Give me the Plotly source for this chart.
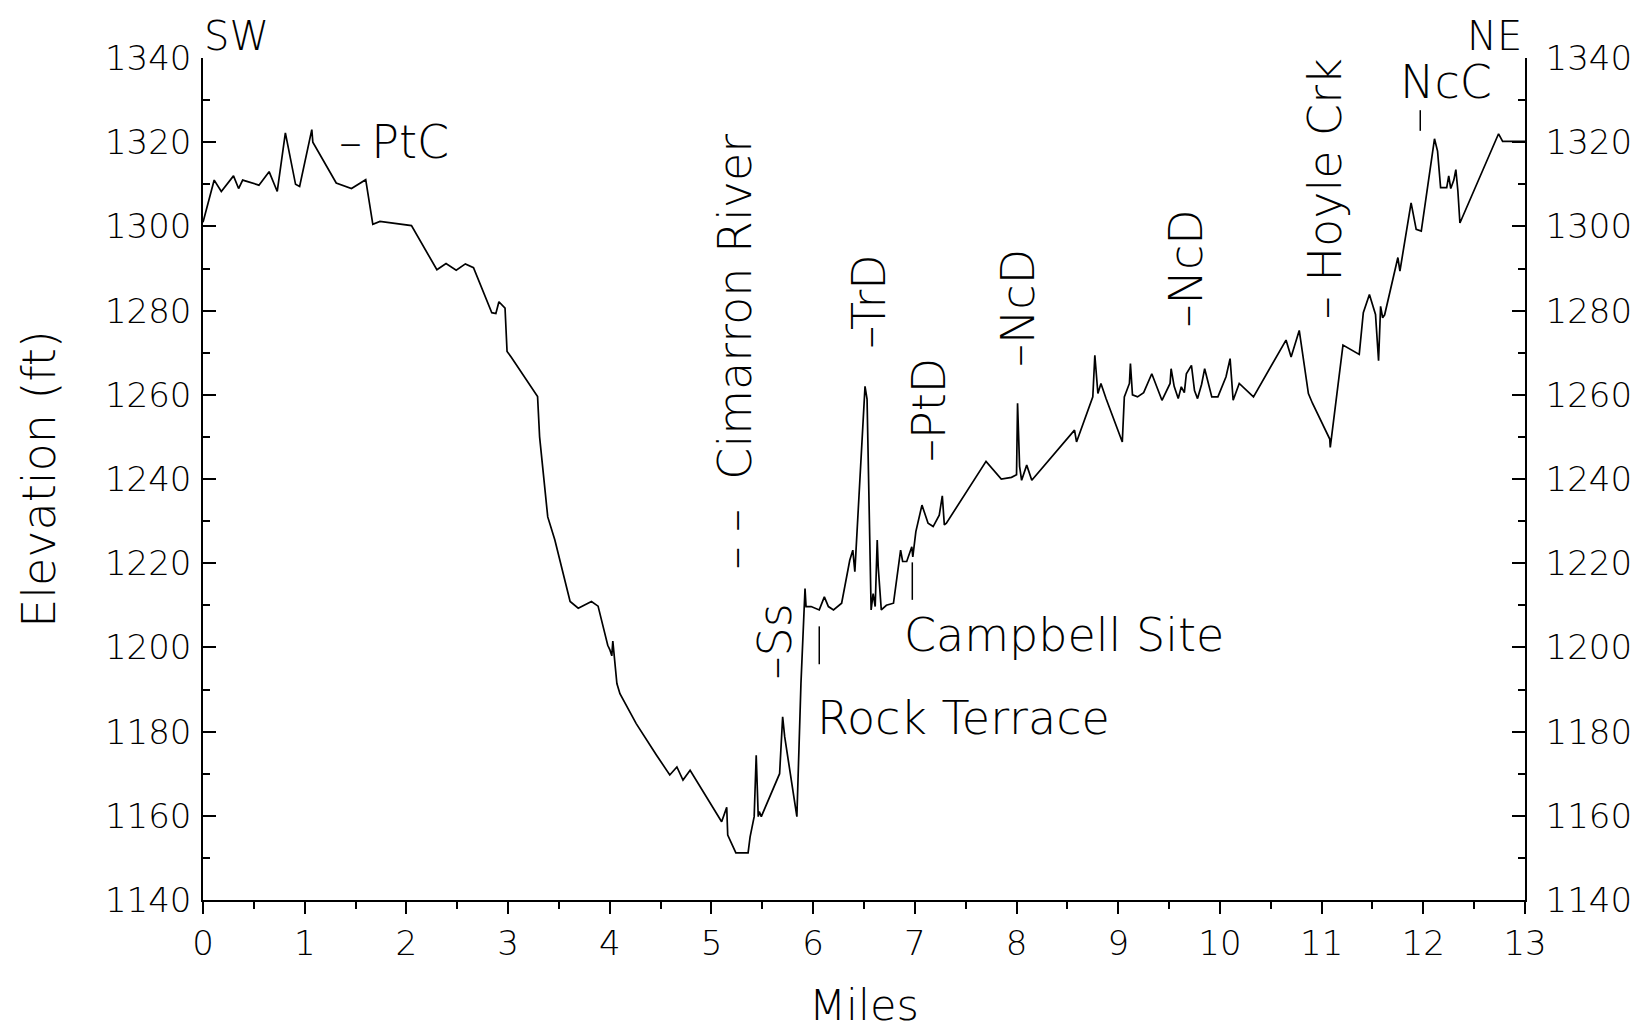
import plotly.graph_objects as go

# Elevation profile (miles from SW end, elevation in ft)
miles = [0, 0.11, 0.18, 0.30, 0.35, 0.39, 0.55, 0.65, 0.73, 0.81, 0.91, 0.95, 1.07, 1.08,
         1.31, 1.46, 1.60, 1.67, 1.74, 2.05, 2.30, 2.39, 2.49, 2.58, 2.66, 2.84, 2.88,
         2.91, 2.97, 2.99, 3.03, 3.26, 3.29, 3.31, 3.39, 3.46, 3.61, 3.69, 3.82, 3.885,
         3.98, 4.00, 4.02, 4.03, 4.04, 4.07, 4.10, 4.26, 4.46, 4.59, 4.66, 4.72, 4.79,
         5.10, 5.15, 5.16, 5.24, 5.36, 5.38, 5.42, 5.44, 5.46, 5.47, 5.49, 5.67, 5.70,
         5.72, 5.84, 5.86, 5.88, 5.92, 5.93, 5.98, 6.06, 6.11, 6.15, 6.20, 6.28, 6.36,
         6.39, 6.41, 6.51, 6.53, 6.57, 6.59, 6.61, 6.63, 6.64, 6.67, 6.72, 6.79, 6.86,
         6.88, 6.92, 6.97, 6.98, 7.01, 7.07, 7.13, 7.18, 7.24, 7.27, 7.29, 7.31, 7.70,
         7.85, 7.95, 8.00, 8.01, 8.03, 8.05, 8.10, 8.15, 8.57, 8.59, 8.75, 8.77, 8.80,
         8.83, 8.88, 9.04, 9.06, 9.11, 9.12, 9.14, 9.19, 9.25, 9.33, 9.43, 9.51, 9.52,
         9.55, 9.59, 9.62, 9.65, 9.67, 9.72, 9.75, 9.78, 9.82, 9.85, 9.92, 9.98, 10.06,
         10.10, 10.13, 10.19, 10.33, 10.65, 10.70, 10.78, 10.87, 10.91, 11.08, 11.085,
         11.21, 11.37, 11.41, 11.47, 11.53, 11.56, 11.58, 11.60, 11.62, 11.75, 11.77,
         11.88, 11.93, 11.98, 12.11, 12.14, 12.17, 12.23, 12.25, 12.27, 12.30, 12.32,
         12.34, 12.36, 12.74, 12.78, 13.0]

elevation_ft = [1301, 1311, 1308.3, 1312, 1309, 1311, 1309.8, 1313, 1308.3, 1322.2, 1310,
                1309.5, 1323, 1320, 1310.3, 1309, 1311.1, 1300.5, 1301.2, 1300.2, 1289.7,
                1291.2, 1289.6, 1291.1, 1290.2, 1279.5, 1279.3, 1282.1, 1280.6, 1270.3,
                1269, 1260.5, 1259.6, 1250, 1231, 1225.5, 1210.9, 1209.3, 1210.9, 1209.8,
                1200.5, 1199.5, 1198, 1201.5, 1199, 1191.4, 1189, 1181.9, 1174.4, 1169.7,
                1171.6, 1168.5, 1170.8, 1158.6, 1162, 1155.4, 1151.2, 1151.2, 1155,
                1159.8, 1174.4, 1159.8, 1161, 1159.8, 1170, 1183.5, 1178.8, 1159.8,
                1175.6, 1191.4, 1214, 1209.7, 1209.7, 1208.9, 1212, 1209.7, 1208.9,
                1210.5, 1220.7, 1223.1, 1218, 1262, 1259, 1208.9, 1212.8, 1209.7, 1225.5,
                1219, 1208.9, 1210, 1210.5, 1223.1, 1220.4, 1220.4, 1223.9, 1221.5,
                1227.5, 1233.8, 1229.5, 1228.7, 1231.4, 1236, 1229.1, 1229.5, 1244.2,
                1240, 1240.4, 1241, 1258, 1243, 1239.7, 1243.3, 1239.7, 1251.6, 1248.8,
                1259.5, 1269.4, 1260.3, 1262.7, 1259.1, 1248.8, 1259.5, 1262.7, 1267.4,
                1260, 1259.5, 1260.5, 1265, 1258.7, 1262.7, 1266.2, 1262, 1259.1, 1261.9,
                1260.5, 1265, 1267, 1261, 1259.1, 1262.5, 1266.2, 1259.5, 1259.5, 1264.3,
                1268.6, 1258.7, 1262.7, 1259.5, 1273, 1269, 1275.3, 1260.3, 1258, 1249.5,
                1247.5, 1271.8, 1269.6, 1279.5, 1283.8, 1279.1, 1268.1, 1281, 1278.3,
                1279, 1292.6, 1289.4, 1305.6, 1299.3, 1298.9, 1320.8, 1317.9, 1309.2,
                1309.2, 1312, 1309, 1311, 1313.5, 1308.4, 1300.8, 1322, 1320.2, 1320.2]

x_ticks = list(range(0, 14))
y_ticks = list(range(1140, 1341, 20))

FONT = "DejaVu Sans"
TICK = dict(family=FONT, size=34, color="black", weight=200)
BIG = dict(family=FONT, size=46, color="black", weight=200)
TITLE_X = dict(family=FONT, size=43, color="black", weight=200)

fig = go.Figure()
fig.add_trace(go.Scatter(x=miles, y=elevation_ft, mode="lines",
                         line=dict(color="black", width=1.7), showlegend=False,
                         hoverinfo="skip"))
fig.add_trace(go.Scatter(x=miles, y=elevation_ft, mode="lines", yaxis="y2",
                         line=dict(color="rgba(0,0,0,0)", width=0), showlegend=False,
                         hoverinfo="skip"))

axis_common = dict(showgrid=False, zeroline=False, showline=True, linecolor="black",
                   linewidth=1.5, tickcolor="black", tickwidth=1.5, tickfont=TICK,
                   automargin=False)

fig.update_layout(
    width=1647, height=1033,
    margin=dict(l=203, r=122, t=58, b=133),
    paper_bgcolor="white", plot_bgcolor="white",
    xaxis=dict(range=[0, 13], tickvals=x_ticks, ticks="outside", ticklen=12,
               minor=dict(dtick=0.5, ticks="outside", ticklen=7, tickcolor="black", tickwidth=1.5),
               ticklabelstandoff=0, **axis_common),
    yaxis=dict(range=[1140, 1340], tickvals=y_ticks, ticks="inside", ticklen=13,
               minor=dict(dtick=10, ticks="inside", ticklen=7, tickcolor="black", tickwidth=1.5),
               title=dict(text="Elevation (ft)", font=BIG, standoff=35),
               ticklabelstandoff=3, **axis_common),
    yaxis2=dict(range=[1140, 1340], tickvals=y_ticks, ticks="inside", ticklen=13,
                minor=dict(dtick=10, ticks="inside", ticklen=7, tickcolor="black", tickwidth=1.5),
                overlaying="y", side="right", ticklabelstandoff=12, **axis_common),
)

ann = []
def txt(text, x, y, angle=0, xanchor="center", yanchor="middle", font=BIG,
        xref="x", yref="y"):
    ann.append(dict(text=text, x=x, y=y, xref=xref, yref=yref, showarrow=False,
                    textangle=angle, xanchor=xanchor, yanchor=yanchor, font=font,
                    borderpad=0))

SMALL = dict(family=FONT, size=40, color="black", weight=200)
txt("Miles", 0.5, -0.1247, font=TITLE_X, xref="paper", yref="paper")
txt("SW", 0.0, 1.026, xanchor="left", font=SMALL, yref="paper")
txt("NE", 12.98, 1.026, xanchor="right", font=SMALL, yref="paper")
txt("–\u2009PtC", 1.33, 1320.0, xanchor="left")
txt("– –  Cimarron River", 5.228, 1270.2, angle=-90)
txt("–Ss", 5.62, 1201.3, angle=-90)
txt("Rock Terrace", 6.03, 1183.3, xanchor="left")
txt("Campbell Site", 6.88, 1202.9, xanchor="left")
txt("–TrD", 6.553, 1282.2, angle=-90)
txt("–PtD", 7.14, 1256.4, angle=-90)
txt("–NcD", 8.02, 1280.5, angle=-90)
txt("–NcD", 9.67, 1290.1, angle=-90)
txt("– Hoyle Crk", 11.03, 1309.0, angle=-90)
txt("NcC", 12.22, 1334.3)
fig.update_layout(annotations=ann)

# small vertical marker ticks
for (mx, y0, y1) in [(6.06, 1196.0, 1205.0), (6.975, 1211.3, 1220.2), (11.97, 1322.7, 1327.6)]:
    fig.add_shape(type="line", x0=mx, x1=mx, y0=y0, y1=y1, xref="x", yref="y",
                  line=dict(color="black", width=1.5))

fig.write_html("out.html")
